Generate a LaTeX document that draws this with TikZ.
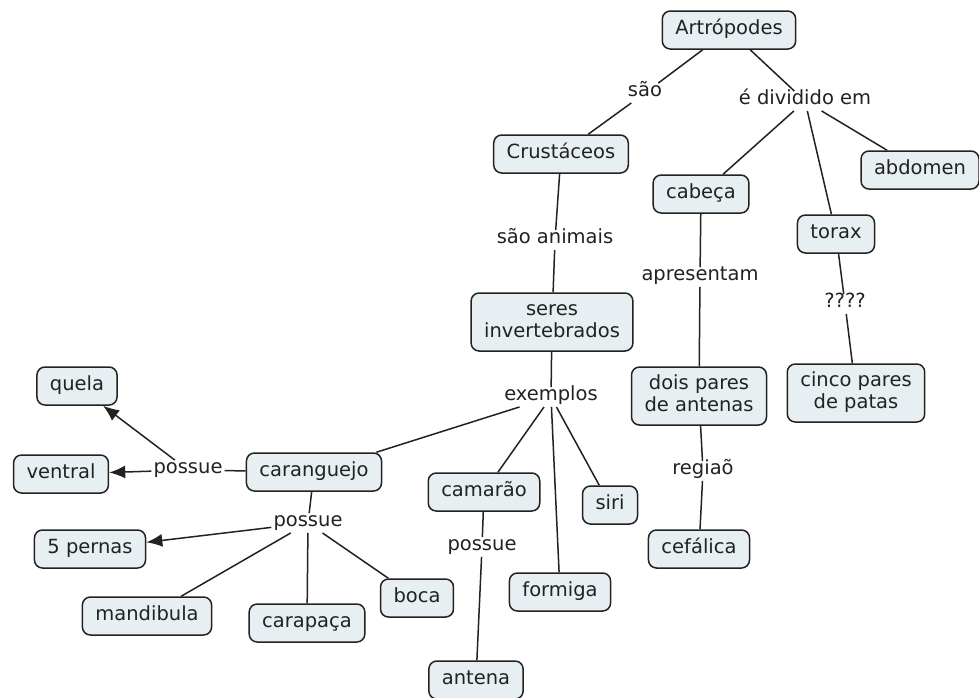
\documentclass[tikz,border=0pt]{standalone}
\usepackage{fontspec}
\setmainfont{DejaVu Sans}
\usetikzlibrary{arrows.meta}
\definecolor{boxfill}{HTML}{E8EFF2}
\definecolor{ink}{HTML}{222222}
\newcommand{\mapfont}{\fontsize{19.5}{22}\selectfont}
\begin{document}
\begin{tikzpicture}[x=1pt,y=-1pt,
  base/.style={draw=ink, fill=boxfill, rounded corners=8pt, line width=1.5pt,
    inner xsep=13pt, font=\mapfont, text=ink},
  concept/.style={base, inner ysep=0pt, text height=14pt, text depth=4.5pt, minimum height=38pt},
  concepttwo/.style={base, align=center, inner ysep=7pt},
  phrase/.style={font=\mapfont, text=ink, inner xsep=2pt, inner ysep=1.5pt,
    text height=12pt, text depth=4.5pt},
  link/.style={draw=ink, line width=1.5pt},
  arr/.style={link, -{Latex[length=16pt,width=13pt]}}]
\useasboundingbox (0,0) rectangle (979,697);
\fill[white] (0,0) rectangle (979,697);

% concepts
\node[concept] (art) at (729,30) {Artrópodes};
\node[concept] (cru) at (561,154) {Crustáceos};
\node[concept] (cab) at (701,194) {cabeça};
\node[concept] (abd) at (920,170) {abdomen};
\node[concept] (tor) at (836,234) {torax};
\node[concepttwo] (ser) at (552,322) {\strut seres\\\strut invertebrados};
\node[concepttwo] (dois) at (699,396) {\strut dois pares\\\strut de antenas};
\node[concepttwo] (cinco) at (856,393) {\strut cinco pares\\\strut de patas};
\node[concept] (que) at (77,386) {quela};
\node[concept] (ven) at (61,474) {ventral};
\node[concept] (car) at (314,472) {caranguejo};
\node[concept] (cam) at (484,492) {camarão};
\node[concept] (siri) at (610,505) {siri};
\node[concept] (per) at (90,549) {5 pernas};
\node[concept] (cef) at (699,549) {cefálica};
\node[concept] (for) at (560,592) {formiga};
\node[concept] (boc) at (417,598) {boca};
\node[concept] (man) at (147,616) {mandibula};
\node[concept] (cpa) at (307,623) {carapaça};
\node[concept] (ant) at (476,680) {antena};

% linking phrases
\node[phrase] (sao) at (645,93) {são};
\node[phrase] (div) at (805,101) {é dividido em};
\node[phrase] (anim) at (555,240) {são animais};
\node[phrase] (apr) at (700,277) {apresentam};
\node[phrase] (qq) at (845,304) {????};
\node[phrase] (exe) at (551,397) {exemplos};
\node[phrase] (reg) at (703,471) {regiaõ};
\node[phrase] (pos1) at (188,470) {possue};
\node[phrase] (pos2) at (308,523) {possue};
\node[phrase] (pos3) at (482,547) {possue};

% connectors
\draw[link] (art) -- (sao);
\draw[link] (sao) -- (cru);
\draw[link] (art) -- (div);
\draw[link] (div) -- (cab);
\draw[link] (div) -- (tor);
\draw[link] (div) -- (abd);
\draw[link] (cru) -- (anim);
\draw[link] (anim) -- (ser);
\draw[link] (cab) -- (apr);
\draw[link] (apr) -- (dois);
\draw[link] (dois) -- (reg);
\draw[link] (reg) -- (cef);
\draw[link] (tor) -- (qq);
\draw[link] (qq) -- (cinco);
\draw[link] (ser) -- (exe);
\draw[link] (exe) -- (car);
\draw[link] (exe) -- (cam);
\draw[link] (exe) -- (for);
\draw[link] (exe) -- (siri);
\draw[link] (car) -- (pos1);
\draw[arr] (pos1) -- (que);
\draw[arr] (pos1) -- (ven);
\draw[link] (car) -- (pos2);
\draw[arr] (pos2) -- (per);
\draw[link] (pos2) -- (man);
\draw[link] (pos2) -- (cpa);
\draw[link] (pos2) -- (boc);
\draw[link] (cam) -- (pos3);
\draw[link] (pos3) -- (ant);
\end{tikzpicture}
\end{document}
